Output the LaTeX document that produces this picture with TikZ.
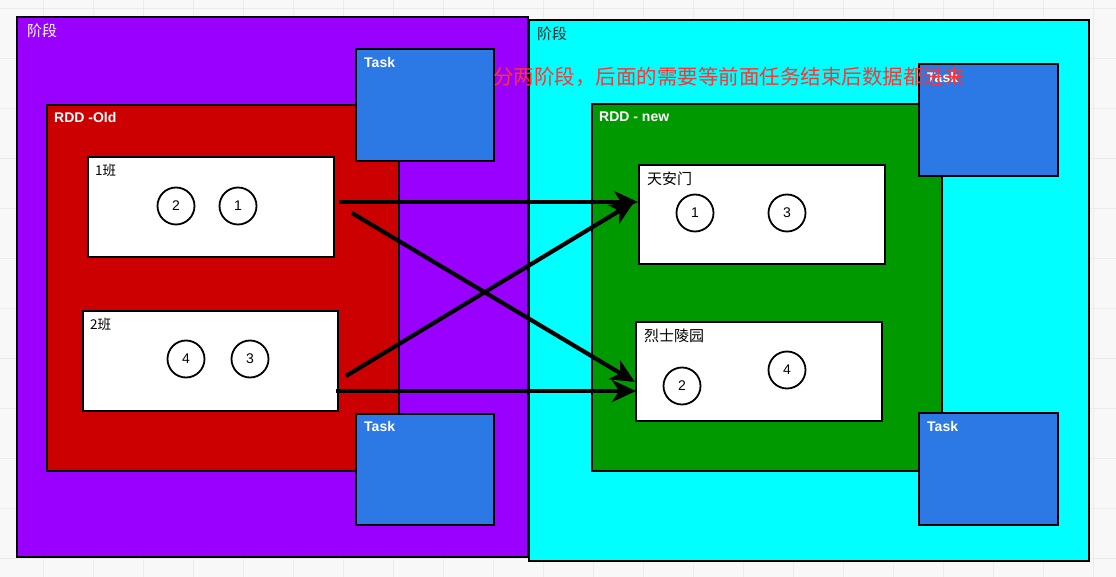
\documentclass[tikz,border=0pt]{standalone}
\usepackage{fontspec}
\setmainfont{Liberation Sans}
\newfontfamily\cjk{Noto Sans CJK SC}
\usetikzlibrary{arrows.meta}
\definecolor{bgc}{HTML}{F8F8F8}
\definecolor{gridc}{HTML}{ECECEC}
\definecolor{stageL}{HTML}{9900FF}
\definecolor{stageR}{HTML}{00FFFF}
\definecolor{rddL}{HTML}{CC0000}
\definecolor{rddR}{HTML}{009900}
\definecolor{taskc}{HTML}{2C78E4}
\definecolor{notec}{HTML}{FF3333}
\tikzset{
  box/.style={draw=black,line width=2pt,inner sep=0pt,anchor=north west},
  part/.style={box,fill=white,line width=1.8pt},
  taskbox/.style={box,fill=taskc},
  lbl/.style={anchor=north west,inner sep=0pt,font=\bfseries\fontsize{14}{14}\selectfont,text=white},
  cjklbl/.style={anchor=north west,inner sep=0pt,font=\cjk\fontsize{15}{15}\selectfont},
  num/.style={circle,draw=black,line width=1.8pt,fill=white,minimum size=37pt,inner sep=0pt,font=\fontsize{14}{14}\selectfont},
  flow/.style={line width=4.2pt,-{Stealth[length=24pt,width=22pt,inset=7pt]}}
}
\begin{document}
\begin{tikzpicture}[x=1pt,y=-1pt]
\fill[bgc] (0,0) rectangle (1116,577);
\useasboundingbox (0,0) rectangle (1116,577);
\foreach \gx in {43,93,...,1116} \draw[gridc,line width=0.8pt] (\gx,0) -- (\gx,577);
\foreach \gy in {8,58,...,577} \draw[gridc,line width=0.8pt] (0,\gy) -- (1116,\gy);
% stages
\node[box,fill=stageL,minimum width=511pt,minimum height=540pt] (stL) at (16,16) {};
\node[box,fill=stageR,minimum width=560pt,minimum height=541pt] (stR) at (528,19) {};
\node[cjklbl,text=white] (stLl) at (27,24) {阶段};
\node[cjklbl,text=black!85] (stRl) at (537,27) {阶段};
% RDD boxes
\node[box,fill=rddL,minimum width=352pt,minimum height=366pt] (rddO) at (46,104) {};
\node[box,fill=rddR,minimum width=350pt,minimum height=367pt] (rddN) at (591,103) {};
\node[lbl] (rddOl) at (54,112) {RDD -Old};
\node[lbl] (rddNl) at (599,112) {RDD - new};
% tasks
\node[taskbox,minimum width=138pt,minimum height=112pt] (t1) at (355,48) {};
\node[taskbox,minimum width=138pt,minimum height=111pt] (t2) at (355,413) {};
\node[taskbox,minimum width=139pt,minimum height=112pt] (t3) at (918,63) {};
\node[taskbox,minimum width=139pt,minimum height=112pt] (t4) at (918,412) {};
\node[lbl] (t1l) at (364,57) {Task};
\node[lbl] (t2l) at (364,421) {Task};
\node[lbl] (t3l) at (927,72) {Task};
\node[lbl] (t4l) at (927,421) {Task};
% partitions
\node[part,minimum width=246pt,minimum height=100pt] (p1) at (87,156) {};
\node[part,minimum width=255pt,minimum height=100pt] (p2) at (82,310) {};
\node[part,minimum width=246pt,minimum height=99pt] (p3) at (638,164) {};
\node[part,minimum width=246pt,minimum height=99pt] (p4) at (635,321) {};
\node[cjklbl,font=\cjk\fontsize{13.5}{13.5}\selectfont] (p1l) at (95,164) {1班};
\node[cjklbl,font=\cjk\fontsize{13.5}{13.5}\selectfont] (p2l) at (90,318) {2班};
\node[cjklbl] (p3l) at (647,172) {天安门};
\node[cjklbl] (p4l) at (644,329) {烈士陵园};
% numbers
\node[num] (a2) at (176,206) {2};
\node[num] (a1) at (238,206) {1};
\node[num] (b4) at (186,359) {4};
\node[num] (b3) at (250,359) {3};
\node[num] (c1) at (695,213) {1};
\node[num] (c3) at (787,213) {3};
\node[num] (d2) at (682,386) {2};
\node[num] (d4) at (787,370) {4};
% arrows
\coordinate (s1) at (339,202);
\coordinate (e1) at (638,202);
\coordinate (s2) at (352,213);
\coordinate (e2) at (635,382);
\coordinate (s3) at (346,376);
\coordinate (e3) at (634,202);
\coordinate (s4) at (336,391);
\coordinate (e4) at (636,391);
\draw[flow] (s1) -- (e1);
\draw[flow] (s2) -- (e2);
\draw[flow] (s3) -- (e3);
\draw[flow] (s4) -- (e4);
% note
\node[anchor=west,inner sep=0pt,text=notec,font=\cjk\fontsize{20.5}{20.5}\selectfont] (note) at (493,77) {分两阶段，后面的需要等前面任务结束后数据都进来};
\end{tikzpicture}
\end{document}
